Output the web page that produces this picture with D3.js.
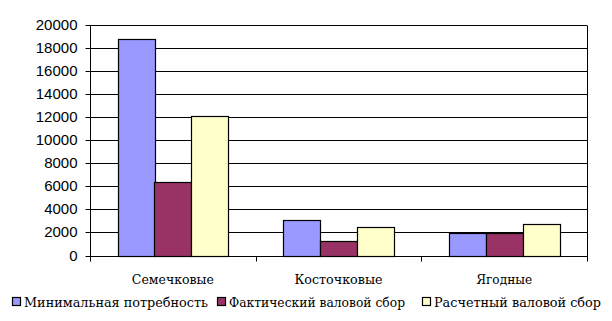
<!DOCTYPE html>
<html><head><meta charset="utf-8">
<script src="https://cdn.jsdelivr.net/npm/d3@7"></script>
<style>body{margin:0;background:#fff}svg{display:block}</style>
</head><body>
<svg id="c" width="612" height="321"></svg>
<script>
const categories = ["Семечковые", "Косточковые", "Ягодные"];
const seriesNames = ["Минимальная потребность", "Фактический валовой сбор", "Расчетный валовой сбор"];
const minNeed = [18750, 3050, 1930];
const actual = [6350, 1230, 1980];
const estimated = [12080, 2450, 2710];
const yTicks = [0, 2000, 4000, 6000, 8000, 10000, 12000, 14000, 16000, 18000, 20000];
const colors = ["#9999FF", "#993366", "#FFFFCC"];

const series = [minNeed, actual, estimated];
const svg = d3.select("#c");
const L = 90, R = 587, T = 25, B = 255.5;
const serif = "'DejaVu Serif', 'Liberation Serif', serif";

const x = d3.scaleBand().domain(categories).range([L, R]).paddingInner(0).paddingOuter(0);
// Excel gap width 150%: bar width = band/(3+1.5)
const barW = x.bandwidth() / 4.5;
const y = d3.scaleLinear().domain([0, 20000]).range([B, T]);

// gridlines
svg.append("g").selectAll("line").data(yTicks).join("line")
  .attr("x1", L).attr("x2", R)
  .attr("y1", d => Math.round(y(d)) + 0.5).attr("y2", d => Math.round(y(d)) + 0.5)
  .attr("stroke", "#000").attr("stroke-width", 1);
// right border
svg.append("line").attr("x1", R + 0.5).attr("x2", R + 0.5).attr("y1", Math.round(y(20000)) + 0.5).attr("y2", Math.round(B) + 0.5)
  .attr("stroke", "#000");

// bars
categories.forEach((c, ci) => {
  series.forEach((s, si) => {
    svg.append("rect")
      .attr("x", Math.round(x(c) + (x.bandwidth() - 3 * barW) / 2 + barW * si) + 0.5)
      .attr("y", Math.round(y(s[ci])) + 0.5)
      .attr("width", Math.round(barW))
      .attr("height", Math.round(B) - Math.round(y(s[ci])))
      .attr("fill", colors[si]).attr("stroke", "#000").attr("stroke-width", 1.2);
  });
});

// y axis
const yAxis = d3.axisLeft(y).tickValues(yTicks).tickSize(5).tickPadding(8).tickFormat(d3.format("d"));
const ga = svg.append("g").attr("transform", `translate(${L + 0.5},0.5)`).call(yAxis);
ga.select(".domain").attr("d", `M0,${Math.round(y(20000))}V${Math.round(B)}`).attr("stroke", "#000");
ga.selectAll(".tick line").attr("stroke", "#000");
ga.selectAll(".tick").attr("transform", d => `translate(0,${Math.round(y(d))})`);
ga.selectAll("text").attr("font-family", "'Liberation Sans', Arial, sans-serif").attr("font-size", 15).attr("fill", "#000");

// x axis
const edges = categories.map(c => x(c)).concat([R]);
svg.append("g").selectAll("line").data(edges).join("line")
  .attr("x1", d => Math.round(d) + 0.5).attr("x2", d => Math.round(d) + 0.5)
  .attr("y1", Math.round(B) + 0.5).attr("y2", Math.round(B) + 5.5).attr("stroke", "#000");
svg.append("line").attr("x1", L).attr("x2", R + 1).attr("y1", Math.round(B) + 0.5).attr("y2", Math.round(B) + 0.5).attr("stroke", "#000");
const catW = [82, 88, 56];
svg.append("g").selectAll("text").data(categories).join("text")
  .attr("x", d => x(d) + x.bandwidth() / 2).attr("y", 284)
  .attr("text-anchor", "middle")
  .attr("font-family", serif).attr("font-size", 13)
  .attr("textLength", (d, i) => catW[i]).attr("lengthAdjust", "spacingAndGlyphs")
  .text(d => d);

// legend
const legX = [12, 217, 422];
const legW = [184, 176, 167];
const lg = svg.append("g");
seriesNames.forEach((n, i) => {
  lg.append("rect").attr("x", legX[i] + 0.5).attr("y", 297.5).attr("width", 8).attr("height", 8)
    .attr("fill", colors[i]).attr("stroke", "#000").attr("stroke-width", 1.2);
  lg.append("text").attr("x", legX[i] + 12).attr("y", 307)
    .attr("font-family", serif).attr("font-size", 13.5)
    .attr("textLength", legW[i]).attr("lengthAdjust", "spacingAndGlyphs")
    .text(n);
});
</script>
</body></html>
